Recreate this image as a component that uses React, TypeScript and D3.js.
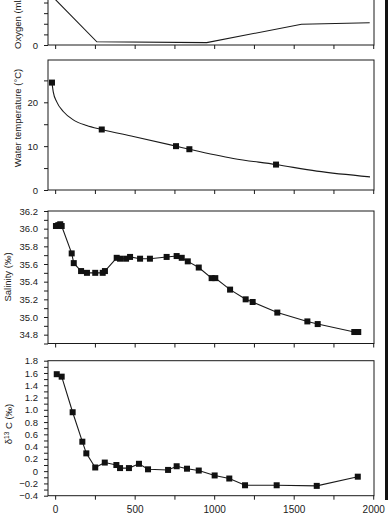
import React, { useRef, useEffect } from 'react';
import * as d3 from 'd3';

// depth (m) shared by all panels
const depthTicks = d3.range(0, 2001, 250);

// oxygen, line only
const oxygenDepth = [0, 262, 953, 1549, 1978];
const oxygenValue = [4.3, 0.3, 0.22, 1.96, 2.1];

// water temperature: measured points + fitted curve
const tempDepth = [-20, 293, 760, 844, 1389];
const tempValue = [24.5, 13.8, 10.0, 9.3, 5.8];
const tempFitDepth = [-20, -12, 10, 51, 114, 198, 293, 492, 760, 844, 1120, 1389, 1645, 1980];
const tempFitValue = [24.5, 22.4, 20.1, 17.9, 16.0, 14.7, 13.8, 12.2, 10.0, 9.3, 7.2, 5.8, 4.3, 3.0];

// salinity
const salDepth = [5, 20, 32, 41, 104, 117, 163, 200, 252, 299, 313, 387, 408, 446, 471, 534, 596, 701, 764, 796, 834, 903, 984, 1007, 1100, 1198, 1242, 1397, 1586, 1651, 1881, 1906];
const salValue = [36.03, 36.04, 36.05, 36.03, 35.72, 35.61, 35.52, 35.5, 35.5, 35.5, 35.52, 35.67, 35.66, 35.66, 35.68, 35.66, 35.66, 35.68, 35.69, 35.67, 35.63, 35.56, 35.44, 35.44, 35.31, 35.2, 35.17, 35.05, 34.95, 34.92, 34.83, 34.83];

// delta 13C
const d13Depth = [10, 41, 110, 171, 196, 252, 312, 385, 408, 464, 527, 584, 710, 764, 829, 903, 1003, 1095, 1194, 1393, 1645, 1903];
const d13Value = [1.58, 1.54, 0.96, 0.48, 0.29, 0.06, 0.14, 0.1, 0.05, 0.05, 0.12, 0.03, 0.02, 0.08, 0.04, 0.01, -0.07, -0.12, -0.23, -0.23, -0.24, -0.09];

const oxygenTicks = d3.range(0, 12);
const tempTicks = [0, 5, 10, 15, 20, 25];
const salTicks = d3.range(347, 363).map(v => v / 10);
const d13Ticks = d3.range(-4, 19).map(v => v / 10);

const FONT = '"Liberation Sans", Arial, sans-serif';
const INK = '#1a1a1a';

export default function App() {
  const ref = useRef<SVGSVGElement>(null);

  useEffect(() => {
    const svg = d3.select(ref.current);
    svg.selectAll('*').remove();

    const x = d3.scaleLinear().domain([-45, 2005]).range([48, 374]);
    const fmt1 = d3.format('.1f');

    const panels = [
      {
        top: -75, bottom: 45, domain: [0, 11.3], ticks: oxygenTicks,
        // only the zero label falls inside the cropped figure
        label: (v: number) => (v === 0 ? '0' : ''),
        title: 'Oxygen (ml/l)', tx: 20.5, ty: 49, anchor: 'start',
      },
      {
        top: 60, bottom: 190, domain: [0, 29.65], ticks: tempTicks,
        label: (v: number) => (v % 10 === 0 ? String(v) : ''),
        title: 'Water temperature (°C)', tx: 21, ty: 118, anchor: 'middle',
      },
      {
        top: 211, bottom: 343.5, domain: [34.7, 36.2], ticks: salTicks,
        label: (v: number) => (Math.round(v * 10) % 2 === 0 ? fmt1(v) : ''),
        title: 'Salinity (‰)', tx: 10.5, ty: 277, anchor: 'middle',
      },
      {
        top: 360.7, bottom: 495.7, domain: [-0.4, 1.8], ticks: d13Ticks,
        label: (v: number) => (Math.round(v * 10) % 2 === 0 ? (Math.abs(v) < 1e-9 ? '0' : fmt1(v)) : ''),
        title: 'd13', tx: 12, ty: 424, anchor: 'middle',
      },
    ];

    const ys = panels.map(p => d3.scaleLinear().domain(p.domain).range([p.bottom, p.top]));

    panels.forEach((p, i) => {
      const y = ys[i];
      const g = svg.append('g');

      g.append('rect')
        .attr('x', 48).attr('y', p.top)
        .attr('width', 326).attr('height', p.bottom - p.top)
        .attr('fill', 'none').attr('stroke', INK).attr('stroke-width', 1);

      const isLast = i === panels.length - 1;
      const ax = g.append('g')
        .attr('transform', `translate(0,${p.bottom})`)
        .call(d3.axisBottom(x).tickValues(depthTicks).tickSize(4).tickSizeOuter(0).tickPadding(6)
          .tickFormat(d => (isLast && (d as number) % 500 === 0 ? String(d) : '')));
      ax.select('.domain').remove();
      ax.selectAll('line').attr('stroke', INK);
      ax.selectAll('text').attr('fill', INK).style('font-family', FONT).style('font-size', '10px');

      const ay = g.append('g')
        .attr('transform', 'translate(48,0)')
        .call(d3.axisLeft(y).tickValues(p.ticks).tickSize(4).tickSizeOuter(0).tickPadding(6)
          .tickFormat(d => p.label(d as number)));
      ay.select('.domain').remove();
      ay.selectAll('line').attr('stroke', INK);
      ay.selectAll('text').attr('fill', INK).style('font-family', FONT).style('font-size', '9.5px');
      // drop empty tick labels
      ay.selectAll('text').filter(function () { return !(this as SVGTextElement).textContent; }).remove();
      ax.selectAll('text').filter(function () { return !(this as SVGTextElement).textContent; }).remove();

      const t = g.append('text')
        .attr('transform', `translate(${p.tx},${p.ty}) rotate(-90)`)
        .attr('text-anchor', p.anchor)
        .attr('fill', INK)
        .style('font-family', FONT)
        .style('font-size', '9.5px');
      if (p.title === 'd13') {
        t.append('tspan').text('δ');
        t.append('tspan').attr('dy', -3).style('font-size', '6.5px').text('13');
        t.append('tspan').attr('dy', 3).text(' C (‰)');
      } else {
        t.text(p.title);
      }
    });

    const line = d3.line<[number, number]>();

    const drawSeries = (i: number, xs: number[], vs: number[], markers: boolean, curve = d3.curveLinear) => {
      const y = ys[i];
      const pts = xs.map((d, k) => [x(d), y(vs[k])] as [number, number]);
      svg.append('path')
        .attr('d', line.curve(curve)(pts))
        .attr('fill', 'none').attr('stroke', INK).attr('stroke-width', 1.1);
      if (markers) {
        svg.append('g').selectAll('rect')
          .data(pts)
          .enter()
          .append('rect')
          .attr('x', d => d[0] - 3).attr('y', d => d[1] - 3)
          .attr('width', 6).attr('height', 6)
          .attr('fill', '#111');
      }
    };

    drawSeries(0, oxygenDepth, oxygenValue, false);
    drawSeries(1, tempFitDepth, tempFitValue, false, d3.curveMonotoneX);
    const yT = ys[1];
    svg.append('g').selectAll('rect')
      .data(tempDepth)
      .enter()
      .append('rect')
      .attr('x', (d) => x(d) - 3).attr('y', (d, k) => yT(tempValue[k]) - 3)
      .attr('width', 6).attr('height', 6)
      .attr('fill', '#111');
    drawSeries(2, salDepth, salValue, true);
    drawSeries(3, d13Depth, d13Value, true);

    // dark scanner edge on the right
    svg.append('rect').attr('x', 385).attr('y', 0).attr('width', 3).attr('height', 500).attr('fill', '#111');
  }, []);

  return (
    <svg ref={ref} width={388} height={520}
      style={{ position: 'absolute', left: 0, top: 0, background: '#fff' }} />
  );
}
